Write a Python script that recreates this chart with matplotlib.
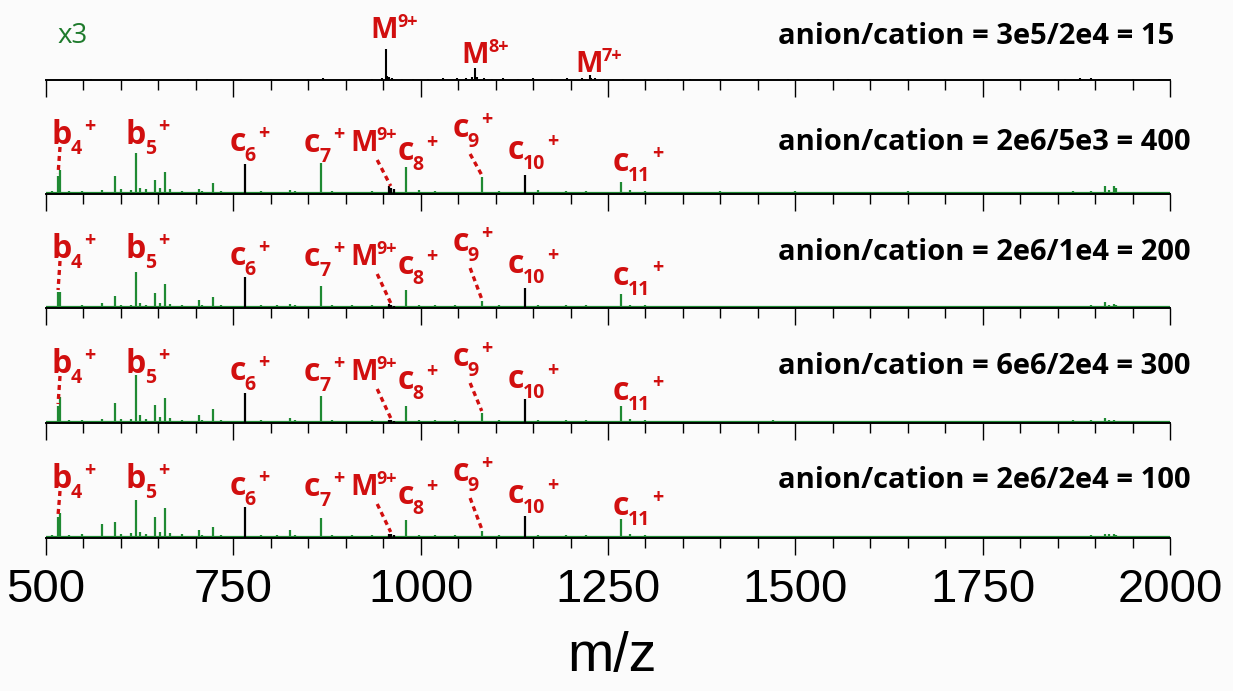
import matplotlib
matplotlib.use("Agg")
import matplotlib.pyplot as plt
from matplotlib.ticker import MultipleLocator

plt.rcParams['font.family'] = ['Liberation Sans', 'DejaVu Sans']

# ---- spectrum data (m/z, intensity in arbitrary units) ----
# top trace: precursor only
MS1_MZ = [953.8, 955.5, 957.2, 1073.0, 1074.8, 1225.6, 1227.5,
          560, 625, 690, 715, 760, 800, 850, 870, 905, 935, 948, 962, 975, 990,
          1010, 1030, 1048, 1060, 1068, 1085, 1095, 1110, 1130, 1150, 1175, 1195,
          1215, 1232, 1245, 1270, 1300, 1330, 1360, 1400, 1450, 1490, 1530, 1570,
          1600, 1650, 1700, 1750, 1800, 1860, 1880, 1895, 1905, 1950, 1985]
MS1_INT = [31, 4, 3, 12, 3, 5, 2,
           1, 1, 1.5, 1.5, 1, 1, 1.5, 2, 1, 1.5, 2, 2, 1.5, 1.5,
           1.5, 2, 2, 2.5, 3, 2, 1.5, 2, 1.5, 2, 1.5, 2,
           2, 2, 1.5, 1.5, 1.5, 1.5, 1, 1.5, 1, 1, 1.5, 1.5,
           1, 1, 1, 1, 1, 1.5, 2, 2, 1.5, 1, 1.5]

# ETD product spectra, one intensity list per anion/cation ratio
FRAG_MZ = [508, 516.1, 519.3, 531, 548, 574.6, 591.5, 600, 613, 619.5, 625, 634,
           645.5, 652, 659.2, 666, 681, 704, 708, 722.5, 734, 765, 787, 808, 825,
           832, 866.6, 882, 908, 935, 958, 961, 964, 980.4, 998, 1019, 1046,
           1082.2, 1104, 1139.3, 1157, 1194, 1220, 1267, 1280, 1300, 1330, 1365,
           1400, 1440, 1470, 1500, 1540, 1580, 1610, 1650, 1700, 1740, 1790, 1830,
           1870, 1895, 1913, 1918, 1925, 1928, 1960, 1985]
INT_400 = [3, 18, 24, 3, 3, 4, 18, 5, 4, 41, 6, 5, 14, 6, 22, 5, 3, 5, 3, 11, 3, 30,
           3, 2, 4, 3, 31, 3, 2, 3, 8, 6, 5, 27, 4, 3, 2, 17, 3, 19, 4, 3, 3, 12, 4,
           3, 2, 2, 3, 2, 2, 3, 2, 2, 2, 3, 2, 2, 2, 2, 3, 3, 8, 4, 8, 6, 2, 2]
INT_200 = [2, 16, 16, 2, 3, 5, 12, 3, 3, 36, 5, 3, 15, 5, 24, 4, 3, 8, 3, 11, 3, 31,
           3, 3, 4, 3, 22, 3, 3, 3, 4, 3, 2, 18, 3, 3, 3, 7, 3, 20, 3, 3, 3, 14, 3,
           3, 2, 2, 2, 2, 2, 2, 2, 2, 2, 2, 2, 2, 2, 2, 2, 3, 6, 3, 4, 3, 2, 2]
INT_300 = [2, 17, 26, 3, 3, 4, 20, 4, 4, 48, 8, 4, 18, 6, 25, 5, 3, 8, 3, 14, 3, 30,
           3, 2, 5, 3, 27, 3, 2, 3, 3, 3, 2, 17, 3, 3, 3, 10, 3, 24, 3, 3, 3, 17, 4,
           3, 2, 2, 2, 2, 3, 2, 2, 2, 2, 2, 2, 2, 2, 2, 3, 3, 5, 3, 3, 2, 2, 2]
INT_100 = [3, 21, 25, 3, 4, 14, 16, 4, 5, 38, 6, 4, 21, 6, 30, 5, 4, 8, 3, 11, 3, 31,
           3, 3, 8, 3, 20, 3, 3, 3, 4, 4, 3, 18, 3, 3, 3, 7, 3, 22, 3, 3, 3, 19, 4,
           3, 2, 2, 2, 2, 2, 2, 2, 2, 2, 2, 2, 2, 2, 2, 2, 3, 4, 4, 4, 3, 2, 2]
FRAG_INT = [INT_400, INT_200, INT_300, INT_100]
BLACK_PEAKS = [765, 958, 961, 964, 1139.3]

RATIO_TEXT = ["anion/cation = 3e5/2e4 = 15", "anion/cation = 2e6/5e3 = 400",
              "anion/cation = 2e6/1e4 = 200", "anion/cation = 6e6/2e4 = 300",
              "anion/cation = 2e6/2e4 = 100"]

# (base, subscript, superscript, m/z, height) of each fragment label
ION_LABELS = [("b", "4", "+", 507, 50), ("b", "5", "+", 606.4, 50),
              ("c", "6", "+", 744.5, 43), ("c", "7", "+", 844.3, 42),
              ("M", "", "9+", 905.7, 43), ("c", "8", "+", 968.9, 34),
              ("c", "9", "+", 1042.3, 57), ("c", "10", "+", 1115.7, 35),
              ("c", "11", "+", 1255.8, 23)]
PRECURSOR_LABELS = [("M", "", "9+", 933.5, 42), ("M", "", "8+", 1054.8, 17),
                    ("M", "", "7+", 1206, 8)]
# dashed leaders: start (m/z, height), end m/z, peak they point to
LEADERS = [(518.7, 47, 516.1, 516.1), (942, 34, 960, 961), (1066, 40, 1081.5, 1082.2)]

RED = '#d10f0f'
GREEN = '#1f8a33'
BG = '#fbfbfb'

W, H = 1233, 691
X0, X1 = 46, 1170
PANEL_H = 70
BASELINES = [80, 194, 308, 423, 538]
TEXT_Y = [36, 143, 253, 366, 481]
MZ_PER_PX = 1500 / (X1 - X0)

fig = plt.figure(figsize=(W / 100, H / 100), dpi=100, facecolor=BG)
renderer = fig.canvas.get_renderer()

label_font = dict(family=['Open Sans', 'DejaVu Sans'], weight='bold', color=RED)


def ion_label(ax, base, sub, sup, mz, h):
    size = 21 if base == "M" else 23
    t = ax.text(mz, h, base, fontsize=size, ha='left', va='baseline',
                clip_on=False, **label_font)
    x = mz + t.get_window_extent(renderer).width * MZ_PER_PX
    if base == "M":
        ax.text(x - 1, h + 11, sup, fontsize=13, ha='left', va='baseline',
                clip_on=False, **label_font)
        return
    s = ax.text(x - 1.5, h - 10, sub, fontsize=14, ha='left', va='baseline',
                clip_on=False, **label_font)
    x2 = x + s.get_window_extent(renderer).width * MZ_PER_PX + 2
    ax.text(x2, h + 17, sup, fontsize=14, ha='left', va='center',
            clip_on=False, **label_font)


axes = []
for i, yb in enumerate(BASELINES):
    ax = fig.add_axes([X0 / W, 1 - yb / H, (X1 - X0) / W, PANEL_H / H])
    ax.set_xlim(500, 2000)
    ax.set_ylim(0, PANEL_H)
    ax.patch.set_visible(False)
    for side in ['top', 'left', 'right']:
        ax.spines[side].set_visible(False)
    ax.spines['bottom'].set_linewidth(1.4)
    ax.set_yticks([])
    ax.xaxis.set_major_locator(MultipleLocator(250))
    ax.xaxis.set_minor_locator(MultipleLocator(50))
    ax.tick_params(axis='x', which='major', direction='out', length=12.5, width=1.0,
                   pad=9, labelsize=34)
    ax.tick_params(axis='x', which='minor', direction='out', length=7.5, width=1.0)
    if i < len(BASELINES) - 1:
        ax.tick_params(axis='x', labelbottom=False)
    axes.append(ax)

# precursor-only spectrum
ax = axes[0]
ax.vlines(MS1_MZ, 0, MS1_INT, color='black', lw=1.5)
for lab in PRECURSOR_LABELS:
    ion_label(ax, *lab)

# product ion spectra
for ax, ints in zip(axes[1:], FRAG_INT):
    ax.axhline(0.8, color=GREEN, lw=1.6)
    cols = ['black' if m in BLACK_PEAKS else GREEN for m in FRAG_MZ]
    ax.vlines(FRAG_MZ, 0, ints, colors=cols, lw=1.6)
    for lab in ION_LABELS:
        ion_label(ax, *lab)
    for m0, h0, m1, target in LEADERS:
        top = ints[FRAG_MZ.index(target)]
        ax.plot([m0, m1], [h0, top + 2], color=RED, lw=2.4,
                linestyle=(0, (1.5, 1.2)), clip_on=False, solid_capstyle='butt')

for txt, y in zip(RATIO_TEXT, TEXT_Y):
    fig.text(778 / W, 1 - y / H, txt, fontsize=21, family=['Open Sans', 'DejaVu Sans'],
             weight='bold', ha='left', va='center', color='black')

fig.text(57 / W, 1 - 36 / H, "x3", fontsize=20, family=['Open Sans', 'DejaVu Sans'],
         color='#1e7a2c', ha='left', va='center')

fig.text(612 / W, 1 - 657 / H, "m/z", fontsize=40, ha='center', va='center')

fig.savefig("out.png", dpi=100, facecolor=BG)
